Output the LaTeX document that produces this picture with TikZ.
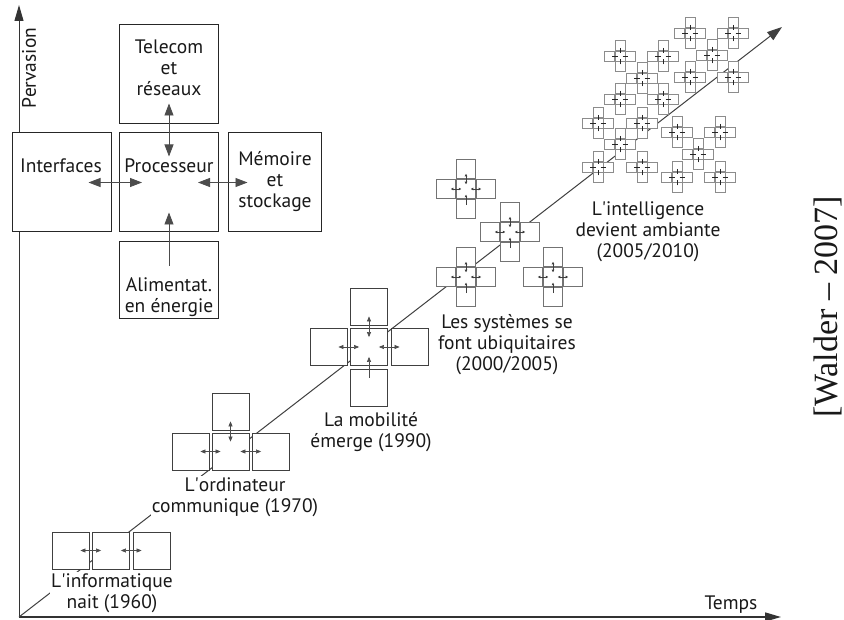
\documentclass[tikz,border=0pt]{standalone}
\usepackage{fontspec}
\setmainfont{PT Sans}
\newfontfamily\citefont{Liberation Serif}
\usetikzlibrary{arrows.meta}
\newcommand{\apo}{\textquotesingle}
\begin{document}
\begin{tikzpicture}[x=1pt,y=-1pt]
\tikzset{
  every node/.style={font=\fontsize{19.5}{21}\selectfont},
  axis/.style={draw=black!80, line width=1.3pt, -{Triangle[length=16pt,width=9pt]}},
  diag/.style={draw=black!75, line width=1pt, -{Triangle[length=15pt,width=10pt]}},
  bigbox/.style={draw=black!85, line width=1pt, fill=white, minimum width=99pt, minimum height=99pt, inner sep=0},
  smallbox/.style={draw=black!75, line width=0.8pt, fill=white, minimum width=37pt, minimum height=37pt, inner sep=0},
  txt/.style={text=black!90, align=center, inner sep=0},
  lbl/.style={txt, fill=white, inner sep=1pt},
  dbl/.style={draw=black!70, line width=0.8pt, {Triangle[length=12pt,width=9pt]}-{Triangle[length=12pt,width=9pt]}, fill=black!70},
  sgl/.style={draw=black!70, line width=0.8pt, -{Triangle[length=12pt,width=9pt]}, fill=black!70},
  sdbl/.style={draw=black!70, line width=0.6pt, {Triangle[length=5pt,width=4pt]}-{Triangle[length=5pt,width=4pt]}},
  ssgl/.style={draw=black!70, line width=0.6pt, -{Triangle[length=5pt,width=4pt]}},
  mcross/.pic={
    \draw[cbox] (-0.5,-1.55) rectangle (0.5,-0.55);
    \draw[cbox] (-1.55,-0.5) rectangle (-0.55,0.5);
    \draw[cbox] (0.55,-0.5) rectangle (1.55,0.5);
    \draw[cbox] (-0.5,0.55) rectangle (0.5,1.55);
    \draw[cbox] (-0.5,-0.5) rectangle (0.5,0.5);
    \draw[ctickd] (-0.8,0) -- (-0.25,0);
    \draw[ctickd] (0.25,0) -- (0.8,0);
    \draw[ctickd] (0,-0.8) -- (0,-0.25);
    \draw[cticks] (0,0.85) -- (0,0.3);
  }
}
\fill[white] (0,0) rectangle (844,620);
\useasboundingbox (0,0) rectangle (844,620);

% axes
\coordinate (O) at (19,617);
\coordinate (ytip) at (19,5);
\coordinate (xtip) at (781,617);
\coordinate (dtip) at (782,27);
\draw[axis, line width=1pt] (O) -- (ytip);
\draw[axis, line width=1.5pt] (O) -- (xtip);
\draw[diag] (O) -- (dtip);
\node[txt, rotate=90] (perv) at (29,68) {Pervasion};
\node[txt] (temps) at (731,605) {Temps};

% big diagram
\node[bigbox] (tel) at (169,74.5) {};
\node[bigbox] (intf) at (61.5,182.5) {};
\node[bigbox] (proc) at (169,182.5) {};
\node[bigbox, minimum width=93pt] (mem) at (274.5,182.5) {};
\node[bigbox, minimum height=77pt] (alim) at (169,280) {};
\node[txt] (telt) at (169,68) {Telecom\\et\\réseaux};
\node[txt] (intft) at (61,166) {Interfaces};
\node[txt] (proct) at (169,166) {Processeur};
\node[txt] (memt) at (275,182) {Mémoire\\et\\stockage};
\node[txt] (alimt) at (169,297) {Alimentat.\\en énergie};
\draw[dbl] ([yshift=21pt]tel.south) -- ([yshift=-24pt]proc.north);
\draw[dbl] ([xshift=-23pt]intf.east) -- ([xshift=23pt]proc.west);
\draw[dbl] ([xshift=-21pt]proc.east) -- ([xshift=20pt]mem.west);
\draw[sgl] ([yshift=-25pt]alim.north) -- ([yshift=20pt]proc.south);

% 1960
\node[smallbox] (a1) at (70.5,550.5) {};
\node[smallbox] (a2) at (111,550.5) {};
\node[smallbox] (a3) at (151.5,550.5) {};
\draw[sdbl] ([xshift=-9pt]a1.east) -- ([xshift=9pt]a2.west);
\draw[sdbl] ([xshift=-9pt]a2.east) -- ([xshift=9pt]a3.west);
\node[lbl] (la) at (112,593) {L\apo informatique\\nait (1960)};

% 1970
\node[smallbox] (b0) at (230.5,411.5) {};
\node[smallbox] (b1) at (190.5,451.5) {};
\node[smallbox] (b2) at (230.5,451.5) {};
\node[smallbox] (b3) at (271,451.5) {};
\draw[sdbl] ([xshift=-9pt]b1.east) -- ([xshift=9pt]b2.west);
\draw[sdbl] ([xshift=-9pt]b2.east) -- ([xshift=9pt]b3.west);
\draw[sdbl] ([yshift=9pt]b0.south) -- ([yshift=-9pt]b2.north);
\node[lbl] (lb) at (235,497) {L\apo ordinateur\\communique (1970)};

% 1990
\node[smallbox] (c0) at (369,306.5) {};
\node[smallbox] (c1) at (328.5,347) {};
\node[smallbox] (c2) at (369,347) {};
\node[smallbox] (c3) at (409.5,347) {};
\node[smallbox] (c4) at (369,387.5) {};
\draw[sdbl] ([yshift=9pt]c0.south) -- ([yshift=-9pt]c2.north);
\draw[sdbl] ([xshift=-9pt]c1.east) -- ([xshift=9pt]c2.west);
\draw[sdbl] ([xshift=-9pt]c2.east) -- ([xshift=9pt]c3.west);
\draw[ssgl] ([yshift=-9pt]c4.north) -- ([yshift=9pt]c2.south);
\node[lbl] (lc) at (371,432) {La mobilité\\émerge (1990)};

% 2000/2005
\begin{scope}[cbox/.style={draw=black!55, line width=0.6pt, fill=white},
  ctickd/.style={draw=black!75, line width=0.6pt, {Triangle[length=2.5pt,width=2.5pt]}-{Triangle[length=2.5pt,width=2.5pt]}},
  cticks/.style={draw=black!75, line width=0.6pt, -{Triangle[length=2.5pt,width=2.5pt]}}]
  \pic[scale=19] (dA) at (466,189) {mcross};
  \pic[scale=19] (dB) at (510,232) {mcross};
  \pic[scale=19] (dC) at (466,277) {mcross};
  \pic[scale=19] (dD) at (553,277) {mcross};
\end{scope}
\node[lbl] (ld) at (507,345) {Les systèmes se\\font ubiquitaires\\(2000/2005)};

% 2005/2010
\begin{scope}[cbox/.style={draw=black!45, line width=0.5pt, fill=white},
  ctickd/.style={draw=black!85, line width=0.5pt},
  cticks/.style={draw=black!85, line width=0.5pt}]
  \foreach \px/\py [count=\i] in {690/33,733/33,620/56,663/56,712/55,642/78,690/77,733/77,620/99,663/99,598/123,642/123,677/132,720/132,620/144,698/154,598/167,642/167,677/177,720/177}
    \pic[scale=10] (e\i) at (\px,\py) {mcross};
\end{scope}
\node[lbl] (le) at (648,232) {L\apo intelligence\\devient ambiante\\(2005/2010)};

% citation
\node[txt, rotate=90, font=\citefont\fontsize{34}{34}\selectfont] (cite) at (828,307) {[Walder – 2007]};
\end{tikzpicture}
\end{document}
